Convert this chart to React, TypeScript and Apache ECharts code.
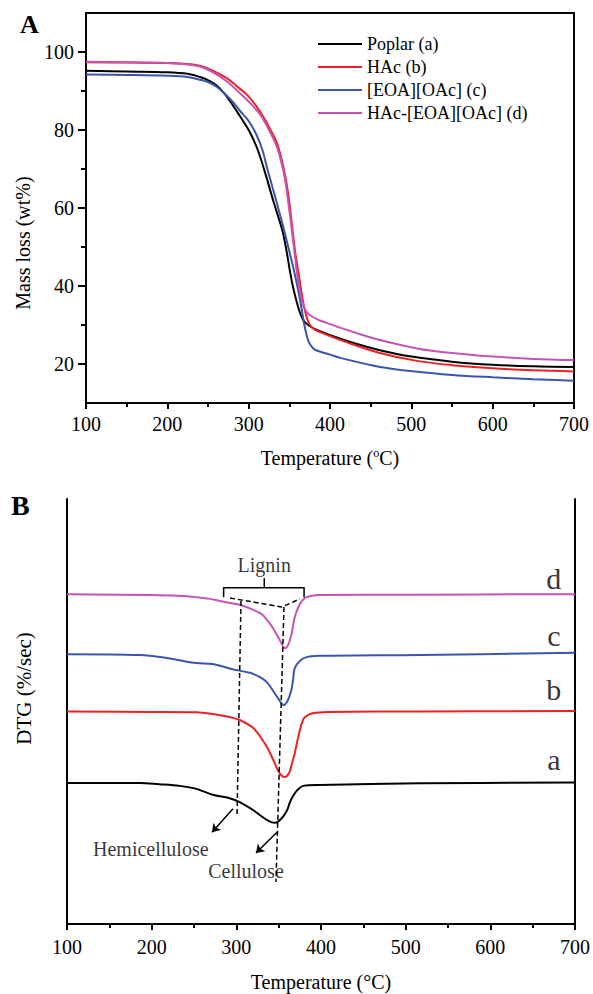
import React, { useEffect, useRef } from "react";
import * as echarts from "echarts";

// ---------- Panel A: TGA (mass loss, wt%) ----------
const tgaNames = ["Poplar (a)", "HAc (b)", "[EOA][OAc] (c)", "HAc-[EOA][OAc] (d)"];
const colors = ["#000000", "#f02020", "#3a55b0", "#c455b4"];

const tgaPoplar: number[][] = [
  [100, 95.2], [150, 95.0], [200, 94.8], [225, 94.4], [240, 93.6], [250, 92.8], [260, 91.5], [270, 89.4],
  [281, 86.2], [291, 83.0], [301, 79.6], [311, 75], [321, 68.5], [330, 62], [336, 58], [342, 53.8],
  [347, 48.5], [351, 43.5], [355, 39.3], [358, 36.8], [362, 33.8], [367, 31.3], [373, 30], [381, 29],
  [390, 28.2], [400, 27.4], [430, 25.3], [460, 23.6], [500, 21.9], [550, 20.6], [600, 19.8], [650, 19.4], [700, 19.2],
];
const tgaHAc: number[][] = [
  [100, 97.4], [150, 97.3], [200, 97.2], [220, 97], [240, 96.5], [255, 95.3], [273, 93.3], [285, 91.3],
  [298, 89], [308, 86.5], [318, 83.4], [327, 80], [335, 76.5], [341, 72], [346, 67], [350, 61.5],
  [353, 56], [357, 49], [360, 45], [363, 41], [366, 37], [370, 33], [373, 31], [377, 29.5], [383, 28.6],
  [391, 27.9], [420, 25.6], [460, 22.9], [507, 20.8], [550, 19.7], [600, 18.9], [650, 18.4], [700, 18.1],
];
const tgaEOA: number[][] = [
  [100, 94.2], [150, 94.1], [200, 93.9], [225, 93.6], [240, 92.9], [250, 92.3], [260, 91.2], [268, 89.8],
  [280, 87.3], [289, 85], [300, 82.3], [310, 78.6], [317, 74.8], [323, 70], [329, 65.5], [335, 61],
  [342, 55.6], [348.5, 50.1], [355, 44.6], [361, 38.8], [365, 34.3], [368, 30.5], [371, 27.6], [374, 25.6],
  [378, 24.3], [382, 23.6], [400, 22.4], [414, 21.5], [460, 19.3], [507, 18], [550, 17.2], [600, 16.6], [650, 16.1], [700, 15.7],
];
const tgaMix: number[][] = [
  [100, 97.5], [150, 97.4], [200, 97.2], [220, 96.9], [240, 96.3], [255, 94.9], [273, 92.5], [289, 89.5],
  [300, 87.3], [314, 84], [325, 80], [335, 75.5], [341, 71], [345, 67], [349, 61], [353, 54.4],
  [357, 47.5], [360.4, 41.8], [364, 37.5], [367.4, 34.8], [372, 33.2], [377, 32.3], [385, 31.4], [395, 30.6],
  [410, 29.5], [430, 28.1], [460, 26.2], [507, 24], [550, 22.8], [600, 21.9], [650, 21.3], [700, 21],
];
const tgaSeries = [tgaPoplar, tgaHAc, tgaEOA, tgaMix];
const tgaMajorTicks = [20, 40, 60, 80, 100];
const tgaMinorTicks = [30, 50, 70, 90];

// ---------- Panel B: DTG (offset curves, arbitrary units) ----------
const dtgA: number[][] = [
  [100, 33.2], [186, 33.2], [209, 32.9], [233, 32.5], [253, 31.8], [272, 30.4], [292, 29.6], [304, 28.7],
  [320, 26.8], [328, 25.6], [336, 24.5], [342, 23.9], [346, 23.8], [350, 24.2], [355, 25.2], [360, 26.8],
  [363, 28.5], [367, 30.1], [372, 31.5], [379, 32.5], [399, 32.7], [517, 33.1], [700, 33.3],
];
const dtgB: number[][] = [
  [100, 50.0], [200, 49.9], [253, 49.8], [272, 49.4], [292, 48.7], [304, 48.0], [320, 46.1], [331, 43.3],
  [338, 41], [342, 39.3], [349, 36.2], [353, 35], [357, 34.6], [360, 34.9], [363, 35.8], [366, 38],
  [369, 40.2], [372, 43], [375, 45.6], [378, 47.6], [381, 48.7], [390, 49.6], [410, 49.9], [517, 50.0], [700, 50.1],
];
const dtgC: number[][] = [
  [100, 63.5], [186, 63.3], [218, 62.6], [253, 61.4], [272, 61.2], [294, 60.0], [316, 59.1], [328, 58.1],
  [336, 56.9], [343, 55.0], [349, 53.2], [356, 51.5], [361, 52.7], [365, 55.1], [367, 57.4], [369, 60.2],
  [375, 61.9], [383, 62.8], [399, 63.1], [517, 63.3], [700, 63.8],
];
const dtgD: number[][] = [
  [100, 77.6], [198, 77.4], [237, 77.2], [269, 76.5], [285, 75.8], [304, 75.1], [320, 73.9], [330, 72.9],
  [336, 71.6], [342, 70.0], [348, 68.0], [353, 66.2], [357, 64.9], [361, 65.6], [365, 68], [369, 72.2],
  [375, 75.3], [381, 76.7], [388, 77.2], [399, 77.4], [517, 77.5], [700, 77.6],
];
const dtgSeries = [dtgA, dtgB, dtgC, dtgD];
const curveLetters = ["a", "b", "c", "d"];
const letterPoints: number[][] = [[675, 38.8], [675, 55.1], [675, 67.8], [675, 81.4]];

// annotation geometry (in data units of panel B)
const dashedSegments: number[][][] = [
  [[305.5, 76.0], [300.8, 25.2]],
  [[356.3, 74.6], [346.8, 9.9]],
  [[292.5, 76.7], [353.9, 74.6], [375.2, 76.5]],
];
const bracketSegments: number[][][] = [
  [[285, 76.9], [285, 79.1], [380, 79.1], [380, 76.9]],
  [[333, 79.1], [333, 81.4]],
];
const arrowSegments: number[][][] = [
  [[296, 27.1], [271.3, 21.6]],
  [[348, 21.6], [323.2, 16.7]],
];
const annotationTexts = ["Lignin", "Hemicellulose", "Cellulose"];
const annotationPoints: number[][] = [[333, 84.5], [199, 17.6], [311.4, 12.5]];

const FONT = "Liberation Serif, Times New Roman, serif";

export default function App() {
  const ref = useRef<HTMLDivElement>(null);
  useEffect(() => {
    if (!ref.current) return;
    const chart = echarts.init(ref.current, undefined, { renderer: "svg" });
    const axisLine = { show: true, lineStyle: { color: "#000", width: 2 } };
    const xCommon = (gridIndex: number) => ({
      type: "value",
      gridIndex,
      min: 100,
      max: 700,
      interval: 100,
      axisLine,
      axisTick: { show: true, length: 6, lineStyle: { color: "#000", width: 2 } },
      minorTick: { show: true, splitNumber: 2, length: 4, lineStyle: { color: "#000", width: 2 } },
      splitLine: { show: false },
      minorSplitLine: { show: false },
      axisLabel: { color: "#000", fontSize: 20, fontFamily: FONT, margin: 11 },
      nameLocation: "middle",
    });
    const frameX = (gridIndex: number) => ({
      type: "value", gridIndex, position: "top", min: 100, max: 700,
      axisLine, axisTick: { show: false }, axisLabel: { show: false }, splitLine: { show: false },
    });
    const frameY = (gridIndex: number, min: number, max: number) => ({
      type: "value", gridIndex, position: "right", min, max,
      axisLine, axisTick: { show: false }, axisLabel: { show: false }, splitLine: { show: false },
    });

    const option: any = {
      animation: false,
      backgroundColor: "#fff",
      textStyle: { fontFamily: FONT, color: "#000" },
      grid: [
        { left: 86, right: 19, top: 13, bottom: 591 },
        { left: 67, right: 18, top: 499, bottom: 70 },
      ],
      legend: {
        data: tgaNames,
        orient: "vertical",
        left: 318,
        top: 35,
        padding: 0,
        icon: "rect",
        itemWidth: 44,
        itemHeight: 2,
        itemGap: 5,
        textStyle: { fontSize: 18, lineHeight: 18, fontFamily: FONT, color: "#000" },
      },
      xAxis: [
        {
          ...xCommon(0),
          name: "{t|Temperature (}{s|o}{t|C)}",
          nameGap: 44,
          nameTextStyle: {
            rich: {
              t: { fontSize: 20, fontFamily: FONT, color: "#000" },
              s: { fontSize: 12, fontFamily: FONT, color: "#000", verticalAlign: "top", padding: [0, 0, 10, 0] },
            },
          },
        },
        frameX(0),
        {
          ...xCommon(1),
          name: "Temperature (°C)",
          nameGap: 48,
          nameTextStyle: { fontSize: 20, fontFamily: FONT, color: "#000" },
          axisLabel: { color: "#000", fontSize: 20, fontFamily: FONT, margin: 13 },
        },
        frameX(1),
      ],
      yAxis: [
        {
          type: "value",
          gridIndex: 0,
          min: 10,
          max: 110,
          axisLine,
          axisTick: { show: true, length: 8, customValues: tgaMajorTicks, lineStyle: { color: "#000", width: 2 } },
          axisLabel: { color: "#000", fontSize: 20, fontFamily: FONT, margin: 12, customValues: tgaMajorTicks },
          splitLine: { show: false },
          name: "Mass loss (wt%)",
          nameLocation: "middle",
          nameGap: 52,
          nameTextStyle: { fontSize: 20, fontFamily: FONT, color: "#000", padding: [0, 70, 0, 0] },
        },
        {
          type: "value",
          gridIndex: 0,
          min: 10,
          max: 110,
          position: "left",
          axisLine: { show: false },
          axisTick: { show: true, length: 5, customValues: tgaMinorTicks, lineStyle: { color: "#000", width: 2 } },
          axisLabel: { show: false },
          splitLine: { show: false },
        },
        frameY(0, 10, 110),
        {
          type: "value",
          gridIndex: 1,
          min: 0,
          max: 100,
          axisLine,
          axisTick: { show: false },
          axisLabel: { show: false },
          splitLine: { show: false },
          name: "DTG (%/sec)",
          nameLocation: "middle",
          nameGap: 33,
          nameTextStyle: { fontSize: 21, fontFamily: FONT, color: "#000", padding: [0, 0, 0, 46] },
        },
        frameY(1, 0, 100),
      ],
      graphic: [
        { type: "text", left: 20, top: 11, style: { text: "A", font: `bold 26px ${FONT}`, fill: "#000" } },
        { type: "text", left: 11, top: 491, style: { text: "B", font: `bold 28px ${FONT}`, fill: "#000" } },
      ],
      series: [
        ...tgaSeries.map((d, i) => ({
          type: "line",
          name: tgaNames[i],
          xAxisIndex: 0,
          yAxisIndex: 0,
          data: d,
          symbol: "none",
          smooth: 0.35,
          lineStyle: { color: colors[i], width: 2 },
          itemStyle: { color: colors[i] },
          z: i === 3 ? 3 : 2,
        })),
        ...dtgSeries.map((d, i) => ({
          type: "line",
          name: "DTG " + curveLetters[i],
          xAxisIndex: 2,
          yAxisIndex: 3,
          data: d,
          symbol: "none",
          smooth: 0.35,
          lineStyle: { color: colors[i], width: 2 },
          itemStyle: { color: colors[i] },
        })),
        {
          type: "lines",
          name: "dashed",
          coordinateSystem: "cartesian2d",
          xAxisIndex: 2,
          yAxisIndex: 3,
          polyline: true,
          symbol: "none",
          lineStyle: { color: "#000", width: 1.5, type: [5, 3], opacity: 1 },
          data: dashedSegments.map((c) => ({ coords: c })),
          z: 5,
        },
        {
          type: "lines",
          name: "bracket",
          coordinateSystem: "cartesian2d",
          xAxisIndex: 2,
          yAxisIndex: 3,
          polyline: true,
          symbol: "none",
          lineStyle: { color: "#000", width: 1.5, type: "solid", opacity: 1 },
          data: bracketSegments.map((c) => ({ coords: c })),
          z: 5,
        },
        {
          type: "lines",
          name: "arrows",
          coordinateSystem: "cartesian2d",
          xAxisIndex: 2,
          yAxisIndex: 3,
          symbol: ["none", "arrow"],
          symbolSize: 8,
          lineStyle: { color: "#000", width: 1.5, type: "solid", opacity: 1 },
          data: arrowSegments.map((c) => ({ coords: c })),
          z: 5,
        },
        {
          type: "scatter",
          name: "letters",
          xAxisIndex: 2,
          yAxisIndex: 3,
          symbolSize: 1,
          itemStyle: { color: "rgba(0,0,0,0)" },
          label: { show: true, position: "inside", formatter: (p: any) => p.name, fontSize: 30, fontFamily: FONT, color: "#000" },
          data: letterPoints.map((p, i) => ({ name: curveLetters[i], value: p })),
          silent: true,
        },
        {
          type: "scatter",
          name: "annotations",
          xAxisIndex: 2,
          yAxisIndex: 3,
          symbolSize: 1,
          itemStyle: { color: "rgba(0,0,0,0)" },
          label: { show: true, position: "inside", formatter: (p: any) => p.name, fontSize: 20, fontFamily: FONT, color: "#000" },
          data: annotationPoints.map((p, i) => ({ name: annotationTexts[i], value: p })),
          silent: true,
        },
      ],
    };
    chart.setOption(option);
    return () => chart.dispose();
  }, []);
  return (
    <div
      ref={ref}
      style={{ position: "fixed", left: 0, top: 0, width: 593, height: 994, background: "#fff" }}
    />
  );
}
